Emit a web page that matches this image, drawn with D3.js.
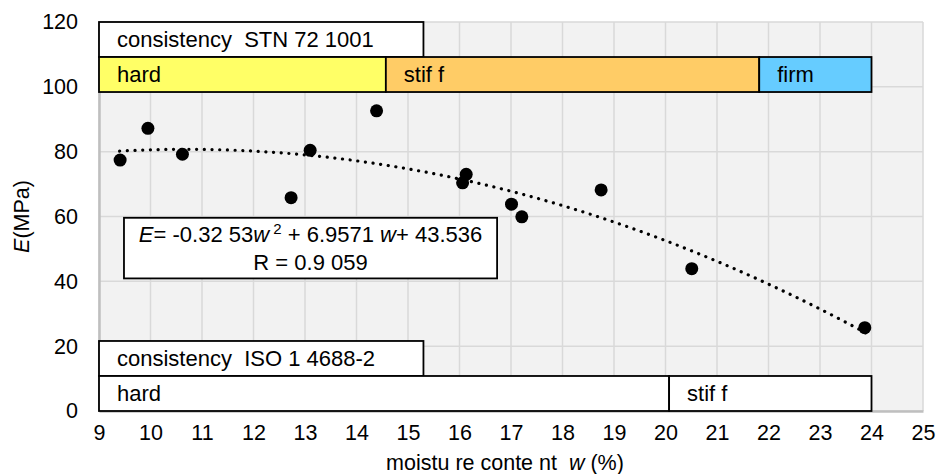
<!DOCTYPE html>
<html>
<head>
<meta charset="utf-8">
<script src="https://cdn.jsdelivr.net/npm/d3@7"></script>
<style>
  html, body { margin: 0; padding: 0; background: #fff; }
  svg { display: block; font-family: "Liberation Sans", Arial, sans-serif; }
  text { white-space: pre; }
</style>
</head>
<body>
<svg id="chart" width="939" height="474"></svg>
<script>
// measured points: moisture content w (%) and modulus E (MPa)
const moisture = [9.41, 9.95, 10.62, 12.73, 13.10, 14.39, 16.13, 16.06, 17.01, 17.21, 18.75, 20.51, 23.87];
const modulus = [77.4, 87.2, 79.2, 65.8, 80.4, 92.6, 73.0, 70.4, 63.8, 59.9, 68.2, 43.9, 25.7];

// trendline coefficients as printed on the chart
const trendCoef = [-0.3253, 6.9571, 43.536];
const trendRange = [9.4, 23.9];

const xTicks = d3.range(9, 26, 1);
const yTicks = [0, 20, 40, 60, 80, 100, 120];

// consistency classes, in axis units
const stnHeader = { label: "consistency  STN 72 1001", x0: 9, x1: 15.3, y0: 109.2, y1: 120 };
const stnBands = [
  { label: "hard", x0: 9, x1: 14.57, fill: "#ffff66" },
  { label: "stif f", x0: 14.57, x1: 21.82, fill: "#ffcc66" },
  { label: "firm", x0: 21.82, x1: 24, fill: "#66ccff" }
];
const stnRow = [98.4, 109.2];

const isoHeader = { label: "consistency  ISO 1 4688-2", x0: 9, x1: 15.3, y0: 10.8, y1: 21.6 };
const isoBands = [
  { label: "hard", x0: 9, x1: 20.07, fill: "#ffffff" },
  { label: "stif f", x0: 20.07, x1: 24, fill: "#ffffff" }
];
const isoRow = [0, 10.8];

const svg = d3.select("#chart");
const margin = { top: 22, right: 16, bottom: 63, left: 99 };
const width = 939 - margin.left - margin.right;
const height = 474 - margin.top - margin.bottom;

const x = d3.scaleLinear().domain([9, 25]).range([0, width]);
const y = d3.scaleLinear().domain([0, 120]).range([height, 0]);

const g = svg.append("g").attr("transform", `translate(${margin.left},${margin.top})`);

// plot background
g.append("rect")
  .attr("width", width)
  .attr("height", height)
  .attr("fill", "#f2f2f2");

// grid
g.append("g")
  .selectAll("line")
  .data(xTicks)
  .join("line")
  .attr("x1", (d) => x(d))
  .attr("x2", (d) => x(d))
  .attr("y1", 0)
  .attr("y2", height)
  .attr("stroke", "#d9d9d9")
  .attr("stroke-width", 1.5);

g.append("g")
  .selectAll("line")
  .data(yTicks)
  .join("line")
  .attr("x1", 0)
  .attr("x2", width)
  .attr("y1", (d) => y(d))
  .attr("y2", (d) => y(d))
  .attr("stroke", "#d9d9d9")
  .attr("stroke-width", 1.5);

// axes
const xAxis = g.append("g")
  .attr("transform", `translate(0,${height})`)
  .call(d3.axisBottom(x).tickValues(xTicks).tickSize(0).tickPadding(14).tickFormat(d3.format("d")));
xAxis.select(".domain").attr("stroke", "#bfbfbf").attr("stroke-width", 2.5);
xAxis.selectAll("text").attr("font-size", 21.5).attr("fill", "#000").attr("font-family", "Liberation Sans, Arial, sans-serif");

const yAxis = g.append("g")
  .call(d3.axisLeft(y).tickValues(yTicks).tickSize(0).tickPadding(21));
yAxis.select(".domain").attr("stroke", "#bfbfbf").attr("stroke-width", 2.5);
yAxis.selectAll("text").attr("font-size", 21.5).attr("fill", "#000").attr("font-family", "Liberation Sans, Arial, sans-serif");

// consistency boxes
function drawBox(parent, b, y0, y1) {
  const bx = x(b.x0);
  const by = y(y1);
  const bw = x(b.x1) - x(b.x0);
  const bh = y(y0) - y(y1);
  parent.append("rect")
    .attr("x", bx)
    .attr("y", by)
    .attr("width", bw)
    .attr("height", bh)
    .attr("fill", b.fill || "#fff")
    .attr("stroke", "#000")
    .attr("stroke-width", 1.8);
  parent.append("text")
    .attr("x", bx + 18)
    .attr("y", by + bh / 2)
    .attr("dy", "0.36em")
    .attr("font-size", 22)
    .text(b.label);
}

const boxes = g.append("g");
drawBox(boxes, stnHeader, stnHeader.y0, stnHeader.y1);
stnBands.forEach((b) => drawBox(boxes, b, stnRow[0], stnRow[1]));
drawBox(boxes, isoHeader, isoHeader.y0, isoHeader.y1);
isoBands.forEach((b) => drawBox(boxes, b, isoRow[0], isoRow[1]));

// trendline
const trendX = d3.range(trendRange[0], trendRange[1] + 0.001, 0.1);
const line = d3.line()
  .x((d) => x(d))
  .y((d) => y(trendCoef[0] * d * d + trendCoef[1] * d + trendCoef[2]))
  .curve(d3.curveLinear);

g.append("path")
  .datum(trendX)
  .attr("d", line)
  .attr("fill", "none")
  .attr("stroke", "#000")
  .attr("stroke-width", 3.2)
  .attr("stroke-linecap", "round")
  .attr("stroke-dasharray", "0.1 7.6");

// points
g.append("g")
  .selectAll("circle")
  .data(moisture)
  .join("circle")
  .attr("cx", (d) => x(d))
  .attr("cy", (d, i) => y(modulus[i]))
  .attr("r", 6.5)
  .attr("fill", "#000");

// equation box
const eqX0 = 9.485, eqX1 = 16.73, eqY0 = 40.9, eqY1 = 59.6;
const eq = g.append("g");
eq.append("rect")
  .attr("x", x(eqX0))
  .attr("y", y(eqY1))
  .attr("width", x(eqX1) - x(eqX0))
  .attr("height", y(eqY0) - y(eqY1))
  .attr("fill", "#fff")
  .attr("stroke", "#000")
  .attr("stroke-width", 1.8);

const eqCx = (x(eqX0) + x(eqX1)) / 2;
const t1 = eq.append("text")
  .attr("x", eqCx)
  .attr("y", y(eqY1) + 24)
  .attr("text-anchor", "middle")
  .attr("font-size", 22);
t1.append("tspan").attr("font-style", "italic").text("E");
t1.append("tspan").text("= -0.32 53");
t1.append("tspan").attr("font-style", "italic").text("w");
t1.append("tspan").attr("font-size", 15).attr("dy", -8).text(" 2");
t1.append("tspan").attr("dy", 8).text(" + 6.9571 ");
t1.append("tspan").attr("font-style", "italic").text("w");
t1.append("tspan").text("+ 43.536");

eq.append("text")
  .attr("x", eqCx)
  .attr("y", y(eqY1) + 52)
  .attr("text-anchor", "middle")
  .attr("font-size", 22)
  .text("R = 0.9 059");

// axis titles
const xt = svg.append("text")
  .attr("x", margin.left + width / 2 - 6)
  .attr("y", 470)
  .attr("text-anchor", "middle")
  .attr("font-size", 21.5);
xt.append("tspan").text("moistu re conte nt  ");
xt.append("tspan").attr("font-style", "italic").text("w");
xt.append("tspan").text(" (%)");

const yt = svg.append("text")
  .attr("transform", `translate(29,${margin.top + y(60)}) rotate(-90)`)
  .attr("text-anchor", "middle")
  .attr("font-size", 21.5);
yt.append("tspan").attr("font-style", "italic").text("E");
yt.append("tspan").text("(MPa)");
</script>
</body>
</html>
